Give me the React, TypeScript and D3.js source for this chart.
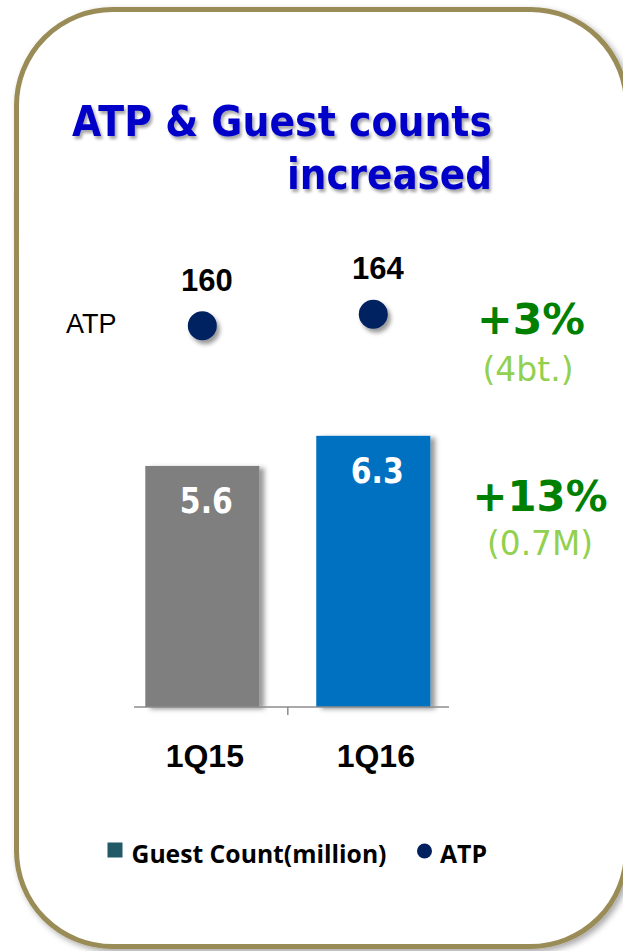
import React from "react";
import * as d3 from "d3";

const categories = ["1Q15", "1Q16"];
const guestCounts = [5.6, 6.3];
const atpValues = [160, 164];
const titleLines = ["ATP & Guest counts", "increased"];
const atpChangePct = "+3%";
const atpChangeAbs = "(4bt.)";
const guestChangePct = "+13%";
const guestChangeAbs = "(0.7M)";
const legendLabels = ["Guest Count(million)", "ATP"];

const W = 623;
const H = 951;

export default function App() {
  const x = d3.scaleBand<string>().domain(categories).range([116.8, 458.8]).paddingInner(0.333).paddingOuter(0.1667);
  const yBar = d3.scaleLinear().domain([0, 7]).range([707, 405.7]);
  const yAtp = d3.scaleLinear().domain([100, 200]).range([496.7, 211.7]);
  const barColors = ["#7F7F7F", "#0070C0"];
  const cx = (c: string) => (x(c) as number) + x.bandwidth() / 2;
  const tickX = (cx(categories[0]) + cx(categories[1])) / 2;

  return (
    <svg width={W} height={H} style={{ position: "absolute", left: 0, top: 0 }} xmlns="http://www.w3.org/2000/svg">
      <defs>
        <filter id="borderShadow" x="-10%" y="-10%" width="120%" height="120%">
          <feDropShadow dx="3" dy="3" stdDeviation="3" floodColor="#000" floodOpacity="0.35" />
        </filter>
        <filter id="titleShadow" x="-5%" y="-20%" width="110%" height="150%">
          <feDropShadow dx="2" dy="3" stdDeviation="1.5" floodColor="#000" floodOpacity="0.35" />
        </filter>
        <filter id="barShadow" x="-10%" y="-10%" width="130%" height="120%">
          <feDropShadow dx="5" dy="2" stdDeviation="2.5" floodColor="#000" floodOpacity="0.4" />
        </filter>
        <filter id="dotShadow" x="-50%" y="-50%" width="200%" height="200%">
          <feDropShadow dx="3" dy="4" stdDeviation="2" floodColor="#000" floodOpacity="0.4" />
        </filter>
      </defs>
      <rect x={0} y={0} width={W} height={H} fill="#fff" />
      {/* frame */}
      <rect x={16.5} y={9.5} width={610} height={937} rx={96} ry={96} fill="#fff" stroke="#9A8C56" strokeWidth={5} filter="url(#borderShadow)" />

      {/* title */}
      <g filter="url(#titleShadow)" fill="#0000C8" fontFamily="'DejaVu Sans', Verdana, sans-serif" fontWeight="bold" fontSize={42}>
        <text x={72} y={136} textLength={420} lengthAdjust="spacingAndGlyphs">{titleLines[0]}</text>
        <text x={492} y={189} textAnchor="end" textLength={205} lengthAdjust="spacingAndGlyphs">{titleLines[1]}</text>
      </g>

      {/* ATP row */}
      <text x={66} y={333} fontFamily="'Liberation Sans', Arial, sans-serif" fontSize={27} fill="#000">ATP</text>
      {categories.map((c, i) => (
        <g key={"atp" + c}>
          <circle cx={cx(c)} cy={yAtp(atpValues[i])} r={14.5} fill="#002060" filter="url(#dotShadow)" />
          <text x={cx(c) + 4.5} y={yAtp(atpValues[i]) - 35} textAnchor="middle" fontFamily="'Liberation Sans', Arial, sans-serif" fontWeight="bold" fontSize={31} fill="#000">{atpValues[i]}</text>
        </g>
      ))}

      {/* bars */}
      {categories.map((c, i) => (
        <g key={"bar" + c}>
          <rect x={x(c)} y={yBar(guestCounts[i])} width={x.bandwidth()} height={yBar(0) - yBar(guestCounts[i])} fill={barColors[i]} filter="url(#barShadow)" />
          <text x={cx(c) + 4} y={yBar(guestCounts[i]) + 47} textAnchor="middle" fontFamily="'DejaVu Sans', Verdana, sans-serif" fontWeight="bold" fontSize={35} fill="#fff" textLength={53} lengthAdjust="spacingAndGlyphs">{guestCounts[i].toFixed(1)}</text>
        </g>
      ))}

      {/* axis */}
      <line x1={134} x2={449} y1={yBar(0)} y2={yBar(0)} stroke="#8C8C8C" strokeWidth={1.5} />
      <line x1={tickX} x2={tickX} y1={yBar(0)} y2={yBar(0) + 8} stroke="#8C8C8C" strokeWidth={1.5} />
      {categories.map((c) => (
        <text key={"lab" + c} x={cx(c) + 2.5} y={767} textAnchor="middle" fontFamily="'Liberation Sans', Arial, sans-serif" fontWeight="bold" fontSize={32} fill="#000">{c}</text>
      ))}

      {/* change annotations */}
      <g fontFamily="'DejaVu Sans', Verdana, sans-serif" textAnchor="middle">
        <text x={531} y={334} fontWeight="bold" fontSize={42} fill="#008000" textLength={108} lengthAdjust="spacingAndGlyphs">{atpChangePct}</text>
        <text x={528} y={381} fontSize={34} fill="#92D050" textLength={91} lengthAdjust="spacingAndGlyphs">{atpChangeAbs}</text>
        <text x={540} y={511} fontWeight="bold" fontSize={42} fill="#008000" textLength={135} lengthAdjust="spacingAndGlyphs">{guestChangePct}</text>
        <text x={540} y={555} fontSize={34} fill="#92D050" textLength={106} lengthAdjust="spacingAndGlyphs">{guestChangeAbs}</text>
      </g>

      {/* legend */}
      <rect x={107.5} y={842.5} width={15} height={15} fill="#215967" />
      <text x={131.5} y={862.5} fontFamily="'Open Sans', 'Noto Sans', sans-serif" fontWeight="bold" fontSize={25} fill="#000" textLength={255} lengthAdjust="spacingAndGlyphs">{legendLabels[0]}</text>
      <circle cx={424.5} cy={851} r={7.5} fill="#002060" />
      <text x={440} y={862.5} fontFamily="'Open Sans', 'Noto Sans', sans-serif" fontWeight="bold" fontSize={25} fill="#000" textLength={47} lengthAdjust="spacingAndGlyphs">{legendLabels[1]}</text>
    </svg>
  );
}
